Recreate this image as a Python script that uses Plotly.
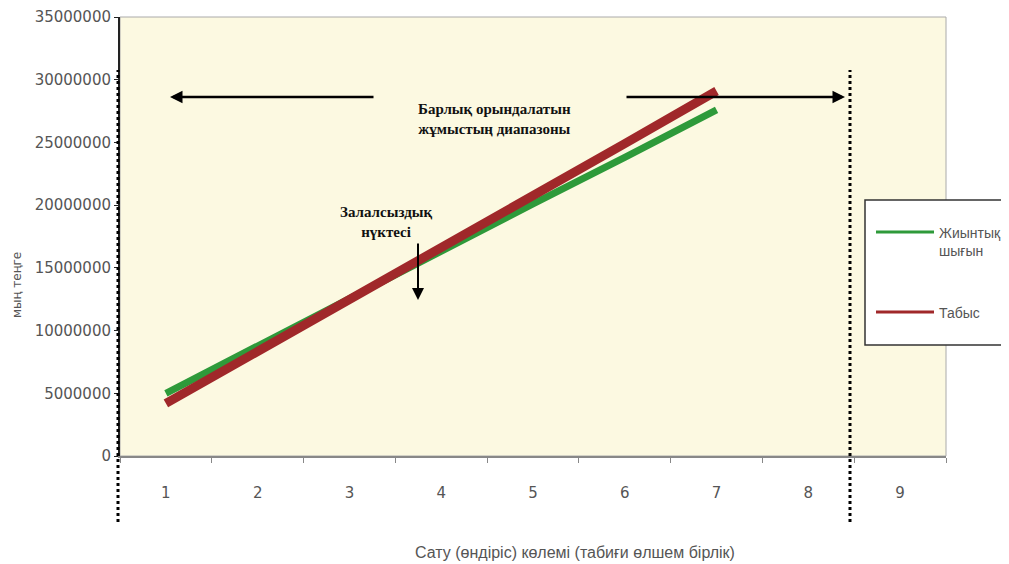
import plotly.graph_objects as go

# ---- data ----
categories = ["1", "2", "3", "4", "5", "6", "7", "8", "9"]
line_x = ["1", "2", "3", "4", "5", "6", "7"]
total_cost = [5000000, 8800000, 12600000, 16300000, 20100000, 23800000, 27600000]
revenue = [4200000, 8300000, 12500000, 16600000, 20800000, 24900000, 29100000]
series_names = ["Жиынтық<br>шығын", "Табыс"]
series_colors = ["#2E9A3A", "#A0282A"]
y_title = "мың теңге"
x_title = "Сату (өндіріс) көлемі (табиғи өлшем бірлік)"
range_label = "<b>Барлық орындалатын<br>жұмыстың диапазоны</b>"
breakeven_label = "<b>Залалсыздық<br>нүктесі</b>"

# page body has an 8px margin; figure is sized/placed to fill the 1009x564 window
OFF = 8
FW, FH = 1009 - OFF, 564 - OFF
# plot area in window pixels
L, R, T, B = 120, 946, 17, 456
W, H = R - L, B - T


def px(x):
    return (x - L) / W


def py(y):
    return (B - y) / H


fig = go.Figure()
fig.add_trace(go.Scatter(x=line_x, y=total_cost, mode="lines", name="Жиынтық шығын",
                         line=dict(color=series_colors[0], width=7), showlegend=False))
fig.add_trace(go.Scatter(x=line_x, y=revenue, mode="lines", name="Табыс",
                         line=dict(color=series_colors[1], width=9), showlegend=False))

axis_font = dict(family="DejaVu Sans", size=15, color="#555555")

fig.update_layout(
    width=FW, height=FH,
    margin=dict(l=L - OFF, r=1009 - R, t=T - OFF, b=564 - B, autoexpand=False),
    paper_bgcolor="white",
    plot_bgcolor="#FCF9E1",
    showlegend=False,
    xaxis=dict(type="category", categoryorder="array", categoryarray=categories,
               range=[-0.5, 8.5], tickson="boundaries", ticks="outside", ticklen=5,
               tickcolor="#888888", showline=True, linecolor="#888888", linewidth=1.5,
               showgrid=False, zeroline=False, tickfont=axis_font, ticklabelstandoff=22,
               automargin=False),
    yaxis=dict(range=[0, 35000000], dtick=5000000, tickformat="d", ticks="outside",
               ticklen=4, tickcolor="#222222", showline=True, linecolor="#222222",
               linewidth=2, showgrid=False, zeroline=False, tickfont=axis_font,
               automargin=False),
)

# plot frame (top & right)
fig.add_shape(type="rect", xref="paper", yref="paper", x0=0, x1=1, y0=0, y1=1,
              line=dict(color="#AAAAAA", width=1), layer="below")

# dotted vertical range boundaries
for xx in [118, 850]:
    fig.add_shape(type="line", xref="paper", yref="paper", x0=px(xx), x1=px(xx),
                  y0=py(522), y1=py(70), line=dict(color="black", width=3, dash="dot"))

# horizontal arrows
fig.add_annotation(xref="paper", yref="paper", x=px(170), y=py(97), ax=205, ay=0,
                   showarrow=True, arrowhead=2, arrowsize=1, arrowwidth=2.5,
                   arrowcolor="black", text="")
fig.add_annotation(xref="paper", yref="paper", x=px(845), y=py(97), ax=-220, ay=0,
                   showarrow=True, arrowhead=2, arrowsize=1, arrowwidth=2.5,
                   arrowcolor="black", text="")
fig.add_annotation(xref="paper", yref="paper", x=px(494), y=py(119), text=range_label,
                   xanchor="center", yanchor="middle", showarrow=False,
                   font=dict(family="Liberation Serif", size=15, color="#111111"),
                   align="center")

# break-even
fig.add_annotation(xref="paper", yref="paper", x=px(386), y=py(222), text=breakeven_label,
                   xanchor="center", yanchor="middle", showarrow=False,
                   font=dict(family="Liberation Serif", size=15, color="#111111"),
                   align="center")
fig.add_annotation(xref="paper", yref="paper", x=px(418), y=py(300), ax=0, ay=-58,
                   showarrow=True, arrowhead=2, arrowsize=1.2, arrowwidth=2,
                   arrowcolor="black", text="")

# axis titles
fig.add_annotation(xref="paper", yref="paper", x=px(575), y=py(552),
                   xanchor="center", yanchor="middle",
                   text=x_title, showarrow=False,
                   font=dict(family="Liberation Sans", size=16, color="#555555"))
fig.add_annotation(xref="paper", yref="paper", x=px(17), y=py(285), textangle=-90,
                   xanchor="center", yanchor="middle",
                   text=y_title, showarrow=False,
                   font=dict(family="DejaVu Sans", size=12, color="#555555"))

# legend box (drawn manually to match the reference layout)
fig.add_shape(type="rect", xref="paper", yref="paper", x0=px(865), x1=px(1015),
              y0=py(345), y1=py(200), fillcolor="white",
              line=dict(color="#333333", width=1.5))
legend_rows = [232, 312]
for name, color, yy in zip(series_names, series_colors, legend_rows):
    fig.add_shape(type="line", xref="paper", yref="paper", x0=px(876), x1=px(934),
                  y0=py(yy), y1=py(yy), line=dict(color=color, width=3))
    fig.add_annotation(xref="paper", yref="paper", x=px(937), y=py(yy - 9),
                       xanchor="left", yanchor="top", align="left", text=name,
                       showarrow=False,
                       font=dict(family="Liberation Sans", size=14, color="#555555"))

fig.write_html("out.html")
